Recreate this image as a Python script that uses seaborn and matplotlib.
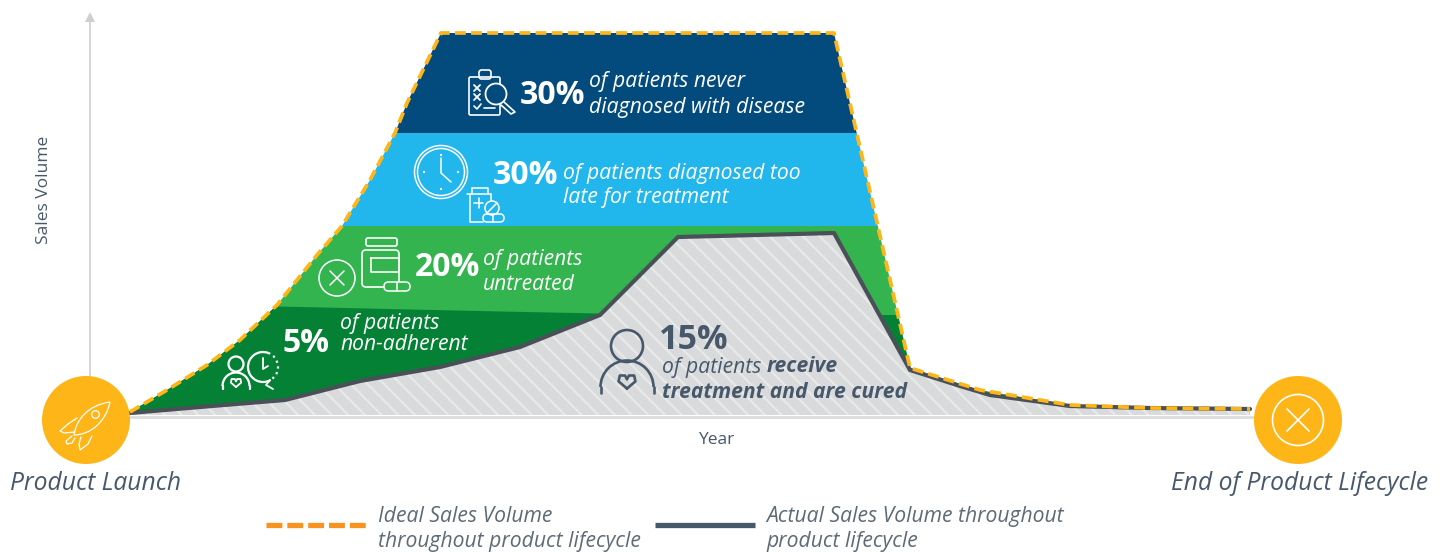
import numpy as np
import pandas as pd
import matplotlib
matplotlib.use("Agg")
import matplotlib.pyplot as plt
import seaborn as sns
from matplotlib.lines import Line2D
from matplotlib.patches import Circle, Arc, FancyBboxPatch, PathPatch
from matplotlib.path import Path
from matplotlib.transforms import Affine2D

# values (x = position along the year axis, y = sales volume)
ideal_year = [130, 167, 207, 240, 277, 317, 342, 370, 395, 407, 423, 441, 834, 910, 980, 1070, 1150, 1250]
ideal_volume = [3, 25, 50, 75, 110, 160, 189, 235, 282, 312, 345, 382, 382, 47, 25, 10, 7, 6]
actual_year = [130, 200, 285, 360, 440, 520, 600, 678, 834, 910, 960, 990, 1070, 1150, 1250]
actual_volume = [2, 8, 15, 34, 48, 68, 100, 178, 182, 45, 29, 20, 9, 7, 6]

band_edges = [382, 282, 189, 0]          # dark blue / light blue / green
band_colors = ["#034a7d", "#21b6ec", "#33b44f"]
nonadherent_year = [130, 277, 500, 600]
nonadherent_top = [109, 109, 104, 102]
nonadherent_right_year = [860, 915]
nonadherent_right_top = [100, 100]

ORANGE = "#fdb518"
SLATE = "#47586b"
LINE_DARK = "#4a5058"
WHITE = "white"

sns.set_theme(style="white")
plt.rcParams["font.family"] = ["Open Sans", "Noto Sans", "DejaVu Sans"]
plt.rcParams["hatch.linewidth"] = 1.6

fig, ax = plt.subplots(figsize=(14.47, 5.52), dpi=100)
fig.subplots_adjust(0, 0, 1, 1)
ax.set_xlim(0, 1447)
ax.set_ylim(-137, 415)

# picture pixels -> display, for the decoration
px = Affine2D().scale(1, -1).translate(0, 552)

# area under the ideal curve, used as clip for the bands
shape = ax.fill_between(ideal_year, ideal_volume, 0, color="none", lw=0)
clip_path = shape.get_paths()[0]
for i, col in enumerate(band_colors):
    band = ax.axhspan(band_edges[i + 1], band_edges[i], color=col, lw=0, zorder=1)
    band.set_clip_path(clip_path, ax.transData)
for xs, tops in [(nonadherent_year, nonadherent_top), (nonadherent_right_year, nonadherent_right_top)]:
    dark = ax.fill_between(xs, tops, 0, color="#058136", lw=0, zorder=1.5)
    dark.set_clip_path(clip_path, ax.transData)

ax.fill_between(actual_year, actual_volume, 0, facecolor="#d9dadb", edgecolor="#e8e9e9",
                hatch="\\\\", lw=0, zorder=2)

actual_df = pd.DataFrame({"year": actual_year, "volume": actual_volume})
ideal_df = pd.DataFrame({"year": ideal_year, "volume": ideal_volume})
sns.lineplot(data=actual_df, x="year", y="volume", ax=ax, color=LINE_DARK, lw=3, sort=False,
             estimator=None, zorder=3)
sns.lineplot(data=ideal_df, x="year", y="volume", ax=ax, color=ORANGE, lw=2.7, sort=False,
             estimator=None, zorder=4, linestyle=(0, (2.9, 1.4)))

# axes
for s in ax.spines.values():
    s.set_visible(False)
ax.set_xticks([])
ax.set_yticks([])
ax.set_xlabel("Year", color=SLATE, fontsize=12.5)
ax.xaxis.set_label_coords(716 / 1447, 1 - 432 / 552)
ax.set_ylabel("Sales Volume", color=SLATE, fontsize=12.5)
ax.yaxis.set_label_coords(52 / 1447, 1 - 190 / 552)


def line(pts, color=WHITE, lw=1.1, **kw):
    xs, ys = zip(*pts)
    ax.add_artist(Line2D(xs, ys, color=color, lw=lw, transform=px, solid_capstyle="round",
                         solid_joinstyle="round", zorder=kw.pop("zorder", 6), **kw))


def patch(p):
    p.set_transform(px)
    p.set_zorder(6)
    ax.add_artist(p)


def circ(x, y, r, color=WHITE, lw=1.1, fill="none"):
    patch(Circle((x, y), r, facecolor=fill, edgecolor=color, lw=lw))


def arc(x, y, r, a1, a2, color=WHITE, lw=1.1, ls="-"):
    # y runs downwards here, so 180..360 is the upper half
    patch(Arc((x, y), 2 * r, 2 * r, theta1=a1, theta2=a2, color=color, lw=lw, ls=ls))


def box(x0, y0, x1, y1, color=WHITE, lw=1.1, rad=1.5):
    patch(FancyBboxPatch((x0, y0), x1 - x0, y1 - y0, boxstyle=f"round,pad=0,rounding_size={rad}",
                         facecolor="none", edgecolor=color, lw=lw))


def heart(x, y, s, color=WHITE, lw=1.1):
    verts = [(x, y + s), (x - s * 1.3, y - s * 0.1), (x - s * 1.1, y - s), (x - s * 0.3, y - s),
             (x, y - s * 0.4), (x + s * 0.3, y - s), (x + s * 1.1, y - s), (x + s * 1.3, y - s * 0.1), (x, y + s)]
    line(verts, color=color, lw=lw)


# y axis arrow, baseline
line([(90, 378), (90, 18)], color="#cfcfcf", lw=1.2, zorder=1)
patch(PathPatch(Path([(90, 12), (85, 22), (95, 22), (90, 12)]), facecolor="#cfcfcf", lw=0))
line([(130, 416.5), (1255, 416.5)], color="#dcdddd", lw=2, zorder=2.5)

# launch and end badges
patch(Circle((86, 420), 44, facecolor=ORANGE, lw=0))
patch(Circle((1298, 420), 44, facecolor=ORANGE, lw=0))
circ(1298, 420, 25.5, lw=1.2)
line([(1287, 409), (1309, 431)], lw=1.2)
line([(1309, 409), (1287, 431)], lw=1.2)

# rocket
rocket = Path([(110, 402), (88, 405), (76, 420), (74, 435), (90, 435), (106, 422), (110, 402)],
              [1, 4, 4, 4, 4, 4, 4])
patch(PathPatch(rocket, facecolor="none", edgecolor=WHITE, lw=0.9))
circ(95.5, 414.5, 3.8, lw=0.9)
line([(77, 418), (68, 424), (60, 431), (64, 433), (75, 432)], lw=0.9)
line([(92, 436), (88, 444), (80, 450), (79, 444), (81, 437)], lw=0.9)
line([(72, 436), (66, 441), (67, 444), (72, 443), (75, 438)], lw=0.9)

# clipboard and magnifier
box(469, 77, 500, 115, lw=1.2)
box(479, 70, 491, 79, lw=1.2, rad=2.5)
circ(496, 94, 10.5, lw=1.3, fill="#034a7d")
line([(504, 102), (515, 112), (511, 114), (501, 105)], lw=1.2)
for yy in (88, 97):
    line([(474, yy - 3), (480, yy + 3)], lw=1.3)
    line([(480, yy - 3), (474, yy + 3)], lw=1.3)
line([(474, 106), (477, 109), (481, 104)], lw=1.2)
line([(484, 108), (495, 108)], lw=1.2)

# clock and medicine
circ(441, 172, 26.5, lw=1.1)
circ(441, 172, 23.5, lw=1.1)
line([(441, 158), (441, 173), (451, 182)], lw=1.1)
for dx, dy in [(0, -17), (0, 17), (-17, 0), (17, 0)]:
    circ(441 + dx, 172 + dy, 0.6, lw=0.8, fill=WHITE)
line([(472, 188), (488, 188), (488, 194)], lw=1.1)
line([(472, 188), (472, 194)], lw=1.1)
line([(467, 194), (491, 194)], lw=1.1)
line([(470, 194), (470, 222), (483, 222)], lw=1.1)
line([(491, 194), (491, 201)], lw=1.1)
line([(474, 203), (483, 203)], lw=1.1)
line([(478.5, 198), (478.5, 208)], lw=1.1)
circ(492, 208, 7, lw=1.1)
line([(487, 213), (497, 203)], lw=1.1)
box(483, 214, 504, 222, lw=1.1, rad=4)
line([(493, 214), (493, 222)], lw=1.1)

# X and bottle
circ(337, 278, 18, lw=1.1)
line([(330, 271), (344, 285)], lw=1.1)
line([(344, 271), (330, 285)], lw=1.1)
box(366, 238, 397, 246, lw=1.2, rad=2)
box(362, 250, 399, 287, lw=1.2, rad=4)
line([(371, 258), (399, 258), (399, 272), (371, 272), (371, 258)], lw=1.2)
patch(FancyBboxPatch((384, 282), 26, 9, boxstyle="round,pad=0,rounding_size=4.5", facecolor="#33b44f",
                     edgecolor=WHITE, lw=1.1))
line([(397, 282), (397, 291)], lw=1.1)

# person and clock
circ(236, 364, 7.5, lw=1.6)
arc(236, 386, 13.5, 180, 360, lw=1.6)
line([(222.5, 386), (222.5, 389)], lw=1.6)
line([(249.5, 386), (249.5, 389)], lw=1.6)
heart(236, 383, 4, lw=1.3)
arc(263, 367, 15, 60, 290, lw=1.6)
arc(263, 367, 15, -70, 60, lw=1.6, ls=":")
line([(263, 358), (263, 369), (268, 366)], lw=1.3)
line([(273, 389), (266, 385), (270, 380)], lw=1.3)

# person, cured
circ(627, 346, 16, color=SLATE, lw=1.9)
arc(627, 387, 26.5, 180, 360, color=SLATE, lw=1.9)
line([(600.5, 387), (600.5, 393)], color=SLATE, lw=1.9)
line([(653.5, 387), (653.5, 393)], color=SLATE, lw=1.9)
heart(627, 382, 6.5, color=SLATE, lw=1.9)


def txt(x, y, s, color=WHITE, size=15.2, style="italic", weight="normal", **kw):
    ax.text(x, y, s, color=color, fontsize=size, style=style, weight=weight, transform=px,
            va="center", zorder=7, **kw)


# callouts
txt(520, 95, "30%", size=23, style="normal", weight="bold")
txt(589, 81, "of patients never")
txt(589, 107, "diagnosed with disease")
txt(493, 176, "30%", size=23, style="normal", weight="bold")
txt(563, 173, "of patients diagnosed too")
txt(563, 198, "late for treatment")
txt(415, 267, "20%", size=23, style="normal", weight="bold")
txt(483, 259, "of patients")
txt(483, 284, "untreated")
txt(283, 343, "5%", size=23, style="normal", weight="bold")
txt(340, 323, "of patients")
txt(340, 345, "non-adherent")
txt(659, 340, "15%", color=SLATE, size=24.5, style="normal", weight="bold")
txt(662, 367, "of patients", color=SLATE)
txt(767, 367, "receive", color=SLATE, weight="bold")
txt(662, 392, "treatment and are cured", color=SLATE, weight="bold")
txt(10, 483, "Product Launch", color=SLATE, size=17.7)
txt(1171, 483, "End of Product Lifecycle", color=SLATE, size=17.7)

# legend
handles = [Line2D([], [], color="#f7931e", lw=3.8, linestyle=(0, (3.0, 0.95)), dash_capstyle="butt"),
           Line2D([], [], color=SLATE, lw=3.8, solid_capstyle="butt")]
labels = ["Ideal Sales Volume\nthroughout product lifecycle", "Actual Sales Volume throughout\nproduct lifecycle"]
leg = ax.legend(handles, labels, ncol=2, frameon=False, loc="center left", bbox_to_anchor=(266, 529),
                bbox_transform=px, prop={"style": "italic", "size": 15.2}, labelcolor="#5e6a75",
                handlelength=4.75, handletextpad=0.54, columnspacing=0.68, borderpad=0, borderaxespad=0,
                labelspacing=0)
for t in leg.get_texts():
    t.set_linespacing(1.27)
# keys sit a little higher than the default, between the two text lines
for h in leg.legend_handles:
    h.set_ydata(np.array(h.get_ydata()) + 3)

fig.savefig("out.png", dpi=100, facecolor="white")
